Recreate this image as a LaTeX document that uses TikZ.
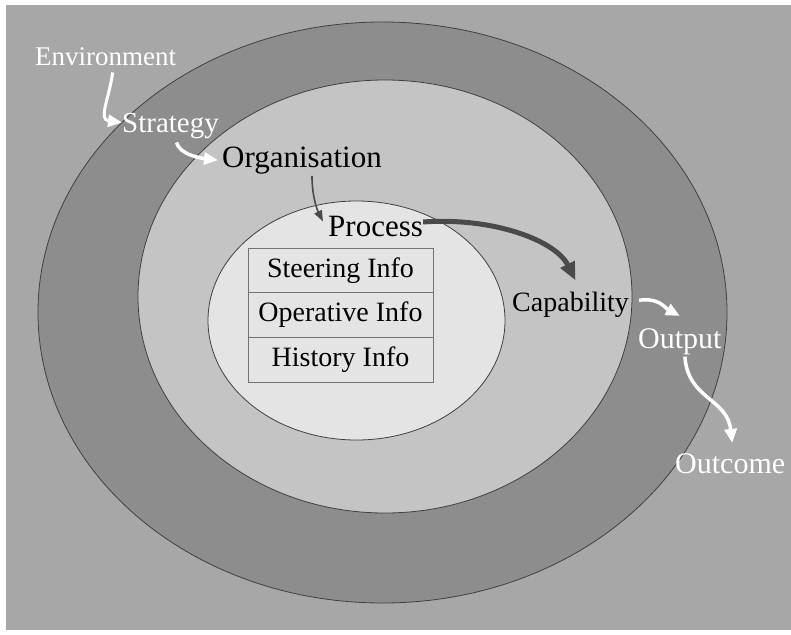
\documentclass[tikz,border=0pt]{standalone}
\usepackage{fontspec}
\setmainfont{Liberation Serif}
\usetikzlibrary{arrows.meta}
\usetikzlibrary{positioning}

\definecolor{plaingrey}{HTML}{A7A7A7}
\definecolor{outergrey}{HTML}{8D8D8D}
\definecolor{middlegrey}{HTML}{C4C4C4}
\definecolor{innergrey}{HTML}{E4E4E4}
\definecolor{arrowgrey}{HTML}{4A4A4A}

\begin{document}
\begin{tikzpicture}[
    x=1pt, y=-1pt,
    ringword/.style={anchor=base west, inner sep=0pt},
    lightword/.style={ringword, text=white},
    infobox/.style={draw=black!55, line width=0.6pt, fill=innergrey, minimum width=185pt, minimum height=44.7pt, inner sep=0pt, font=\fontsize{28}{32}\selectfont},
    whitearrow/.style={white, line width=3.5pt, -{Triangle[length=14pt, width=12pt]}},
    thinarrow/.style={arrowgrey, line width=1.6pt, -{Triangle[length=11pt, width=8pt]}},
    thickarrow/.style={arrowgrey, line width=5pt, -{Triangle[length=18pt, width=15pt]}}
]
\useasboundingbox (0,0) rectangle (791,634);

% --- Background and rings ---
\fill[white] (0,0) rectangle (791,634);
\fill[plaingrey] (6,5) rectangle (791,630);
\draw[fill=outergrey, draw=black!75, line width=0.8pt] (382.5,312.5) ellipse [x radius=344.5pt, y radius=290.5pt];
\draw[fill=middlegrey, draw=black!75, line width=0.8pt] (385,296.5) ellipse [x radius=247pt, y radius=216.5pt];
\draw[fill=innergrey, draw=black!75, line width=0.8pt] (356.5,320.5) ellipse [x radius=148.5pt, y radius=119.5pt];

% --- Information table ---
\foreach \name [count=\i] in {Steering,Operative,History}
    \node[infobox] (info\i) at (340.5,{225.6+\i*44.7}) {\name{} Info};

% --- Labels ---
\node[lightword, font=\fontsize{27}{31}\selectfont] (env) at (35,65) {Environment};
\node[lightword, font=\fontsize{29}{33}\selectfont] (strat) at (122,132) {Strategy};
\node[ringword, font=\fontsize{31}{35}\selectfont] (org) at (222,167) {Organisation};
\node[ringword, font=\fontsize{31}{35}\selectfont] (proc) at (328,236) {Process};
\node[ringword, font=\fontsize{28}{32}\selectfont] (cap) at (512,311) {Capability};
\node[lightword, font=\fontsize{30}{34}\selectfont] (out) at (638,348) {Output};
\node[lightword, font=\fontsize{30}{34}\selectfont] (outc) at (675,473) {Outcome};

% --- Connectors ---
\draw[whitearrow, line width=3pt] ([xshift=7pt, yshift=-7pt]env.south) .. controls +(-4,28) and +(-24,-3) .. ([yshift=3pt]strat.west);
\draw[whitearrow] ([xshift=6pt, yshift=-4pt]strat.south) .. controls +(3,12) and +(-18,-2) .. ([xshift=-4pt]org.west);
\draw[thinarrow] ([xshift=10pt, yshift=-2pt]org.south) .. controls +(0,20) and +(-6,-12) .. ([xshift=-5pt, yshift=-6pt]proc.north west);
\draw[thickarrow] ([yshift=4pt]proc.east) .. controls +(70,-5) and +(-20,-40) .. ([xshift=5pt, yshift=11pt]cap.north);
\draw[whitearrow] ([xshift=10pt, yshift=4pt]cap.east) .. controls +(20,-3) and +(-15,-8) .. ([yshift=12pt]out.north);
\draw[whitearrow] ([xshift=5pt, yshift=-2pt]out.south) .. controls +(3,43) and +(-5,-45) .. ([xshift=2pt, yshift=10pt]outc.north);

\end{tikzpicture}
\end{document}
